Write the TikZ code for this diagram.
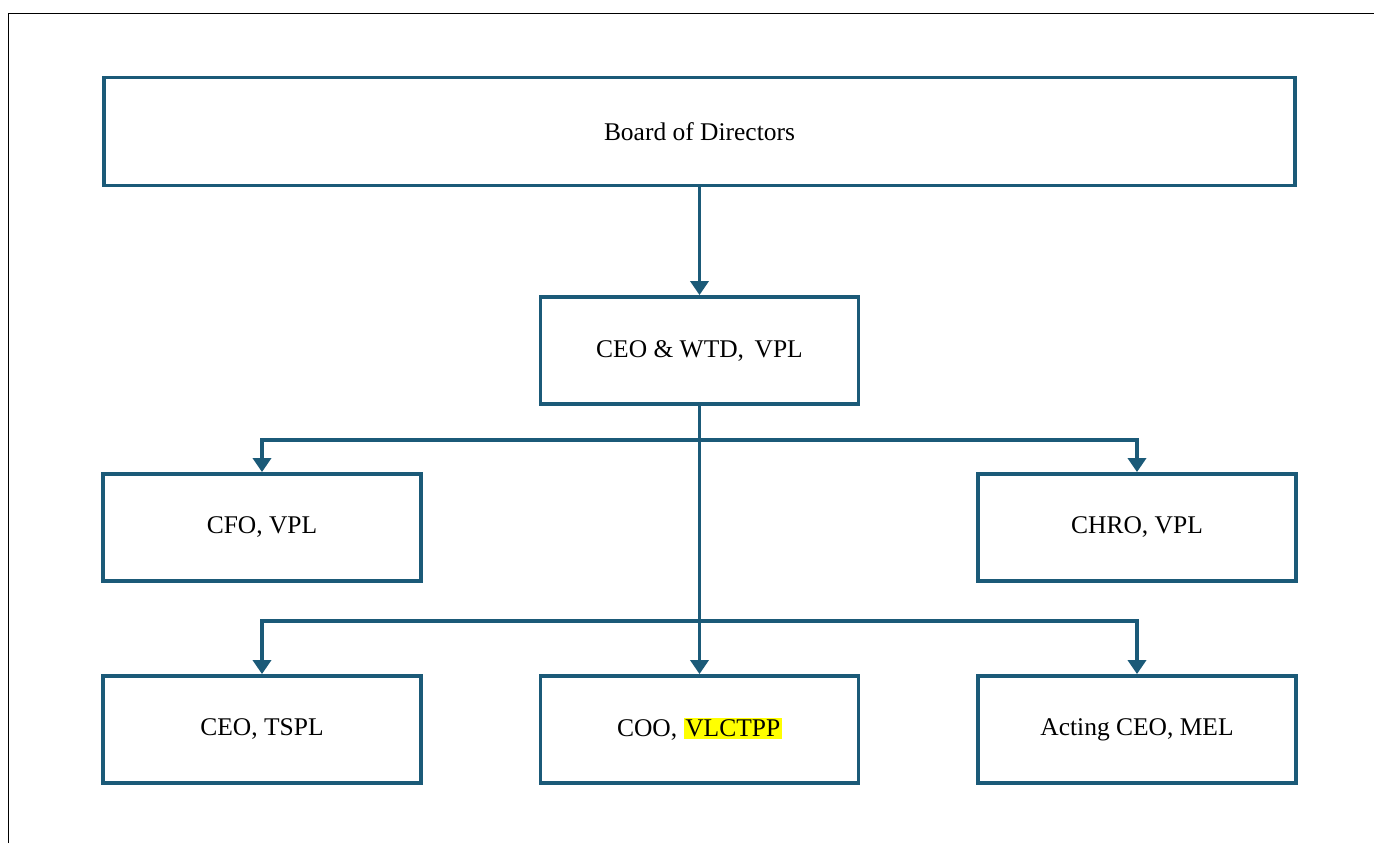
\documentclass[tikz,border=0pt]{standalone}
\usepackage{fontspec}
\setmainfont{Liberation Serif}
\usetikzlibrary{arrows.meta}
\definecolor[named]{OrgTeal}{RGB}{27,90,120}
\definecolor[named]{MarkYellow}{RGB}{255,255,0}
\newcommand{\hilite}[1]{{\setlength{\fboxsep}{1pt}\colorbox{MarkYellow}{#1}}}
\tikzset{
  post/.style={draw=OrgTeal,line width=2.2pt,rectangle,
    minimum width=6.36cm,minimum height=2.14cm,inner sep=0pt,
    font=\fontsize{14.5}{17}\selectfont},
  wide post/.style={post,minimum width=23.84cm,minimum height=2.16cm},
  link/.style={draw=OrgTeal,line width=2.2pt},
  arr/.style={link,-{Triangle[length=2.8mm,width=3.6mm]}}
}

\begin{document}
\begin{tikzpicture}[x=0.02cm,y=-0.02cm]
  \useasboundingbox (0,0) rectangle (1374,843);
  % page frame
  \draw[black,line width=1pt] (8.5,843) -- (8.5,13.5) -- (1374,13.5);

  \node[wide post] (board) at (699.5,131.5) {Board of Directors};
  \node[post] (ceo) at (699.5,350.5) {CEO \& WTD,\, VPL};
  \node[post] (cfo) at (262,527.5) {CFO, VPL};
  \node[post] (chro) at (1137,527.5) {CHRO, VPL};
  \node[post] (tspl) at (262,729.5) {CEO, TSPL};
  \node[post] (coo) at (699.5,729.5) {COO, \hilite{VLCTPP}};
  \node[post] (mel) at (1137,729.5) {Acting CEO, MEL};

  \coordinate (split1) at (699.5,440);
  \coordinate (split2) at (699.5,621);

  \draw[arr] (board) -- (ceo);
  \draw[arr] (ceo) -- (coo);
  \draw[arr] (split1) -| (cfo.north);
  \draw[arr] (split1) -| (chro.north);
  \draw[arr] (split2) -| (tspl.north);
  \draw[arr] (split2) -| (mel.north);
\end{tikzpicture}
\end{document}
